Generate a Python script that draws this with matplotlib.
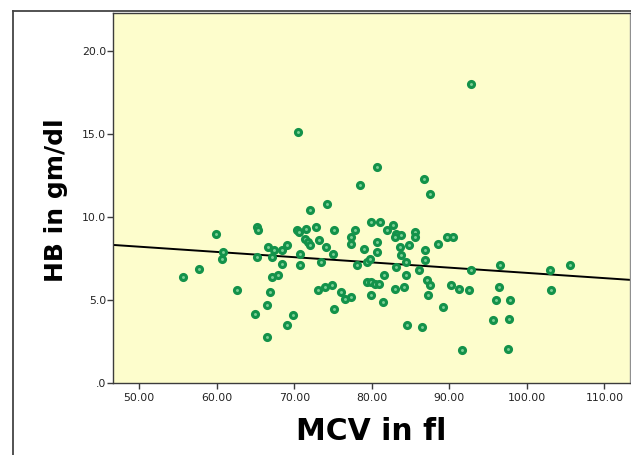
import matplotlib
matplotlib.use("Agg")
import matplotlib.pyplot as plt
from matplotlib.lines import Line2D

# MCV (fl) values
mcv = [55.69, 57.66, 59.88, 60.61, 60.76, 62.57, 64.95, 65.16, 65.36, 65.16,
       66.45, 66.45, 66.66, 66.87, 67.07, 67.07, 67.33, 67.95, 68.37, 68.37,
       69.04, 69.04, 69.87, 70.33, 70.54, 70.43, 70.74, 70.74, 71.47, 71.37,
       71.73, 71.99, 71.99, 72.76, 73.12, 73.02, 73.38, 73.95, 74.06, 74.16,
       74.88, 74.94, 75.09, 75.09, 76.02, 76.54, 77.26, 77.32, 77.37, 77.78,
       78.04, 78.45, 79.02, 79.43, 79.75, 79.43, 79.85, 79.85, 79.95, 80.41,
       80.93, 81.04, 80.68, 80.68, 80.68, 81.55, 81.40, 81.92, 82.75, 83.11,
       82.95, 83.73, 83.11, 82.95, 83.63, 83.78, 84.14, 84.40, 84.45, 84.51,
       84.82, 85.59, 85.54, 86.11, 86.47, 86.78, 86.89, 86.83, 87.09, 87.19,
       87.56, 87.56, 88.59, 89.16, 89.73, 90.45, 90.25, 91.18, 91.59, 92.52,
       92.73, 92.83, 95.68, 95.99, 96.35, 96.51, 97.59, 97.75, 97.85, 102.92,
       103.13, 105.61]

# HB (gm/dl) values
hb = [6.39, 6.89, 9.00, 7.49, 7.90, 5.59, 4.19, 9.40, 9.20, 7.60,
      4.69, 2.79, 8.20, 5.49, 6.39, 7.60, 8.00, 6.49, 7.19, 8.00,
      8.30, 3.49, 4.09, 9.20, 9.10, 15.11, 7.80, 7.09, 9.30, 8.70,
      8.50, 8.30, 10.42, 9.40, 8.60, 5.59, 7.29, 5.79, 8.20, 10.80,
      5.89, 7.80, 9.20, 4.49, 5.49, 5.09, 5.19, 8.80, 8.40, 9.20,
      7.09, 11.90, 8.10, 7.29, 7.49, 6.09, 6.09, 5.29, 9.70, 5.99,
      5.99, 9.70, 8.50, 7.90, 13.00, 6.49, 4.89, 9.20, 9.50, 9.00,
      8.80, 8.90, 6.99, 5.69, 8.20, 7.70, 5.79, 7.29, 6.49, 3.49,
      8.30, 9.10, 8.80, 6.79, 3.39, 12.30, 8.00, 7.39, 6.19, 5.29,
      5.89, 11.40, 8.40, 4.59, 8.80, 8.80, 5.89, 5.69, 1.98, 5.59,
      6.79, 18.02, 3.79, 4.99, 5.79, 7.09, 2.08, 3.89, 4.99, 6.79,
      5.59, 7.09]

# fit line
fit_intercept = 9.79
fit_slope = -0.0315

x_ticks = [50, 60, 70, 80, 90, 100, 110]
x_ticklabels = ["50.00", "60.00", "70.00", "80.00", "90.00", "100.00", "110.00"]
y_ticks = [0, 5, 10, 15, 20]
y_ticklabels = [".0", "5.0", "10.0", "15.0", "20.0"]

W, H = 631, 455
fig = plt.figure(figsize=(W / 100, H / 100), dpi=100)
fig.patch.set_facecolor("white")

left, right, top, bottom = 113.3, 630.0, 12.5, 383.3
ax = fig.add_axes([left / W, 1 - bottom / H, (right - left) / W, (bottom - top) / H])
ax.set_facecolor("#fdfdcc")

ax.scatter(mcv, hb, s=19, facecolor="#7ccf95", edgecolor="#13924a",
           linewidths=2.2, zorder=3)
ax.axline((0, fit_intercept), slope=fit_slope, color="black", lw=1.4, zorder=2)

ax.set_xlim(46.65, 113.3)
ax.set_ylim(0, 22.3)
ax.set_xticks(x_ticks)
ax.set_xticklabels(x_ticklabels)
ax.set_yticks(y_ticks)
ax.set_yticklabels(y_ticklabels)

spine_col = "#3c3c3c"
for s in ax.spines.values():
    s.set_color(spine_col)
    s.set_linewidth(1.0)
ax.spines["right"].set_color("#909090")

ax.tick_params(axis="both", direction="out", length=4.3, width=1.0, color=spine_col,
               labelsize=7.8, labelcolor="#222222")
ax.tick_params(axis="x", pad=2.5)
ax.tick_params(axis="y", pad=0.8)

fig.text(371.5 / W, 1 - 440 / H, "MCV in fl", ha="center", va="baseline",
         fontsize=21.5, fontweight="bold", family="DejaVu Sans")
fig.text(62.7 / W, 1 - 200 / H, "HB in gm/dl", ha="center", va="baseline",
         rotation=90, rotation_mode="anchor",
         fontsize=18, fontweight="bold", family="DejaVu Sans")

# outer frame
fy = 1 - 11 / H
fx = 12.5 / W
fig.add_artist(Line2D([fx, fx], [0, fy], transform=fig.transFigure,
                      color="#444444", lw=1.3))
fig.add_artist(Line2D([fx, 1], [fy, fy], transform=fig.transFigure,
                      color="#444444", lw=1.3))

fig.savefig("out.png", dpi=100)
